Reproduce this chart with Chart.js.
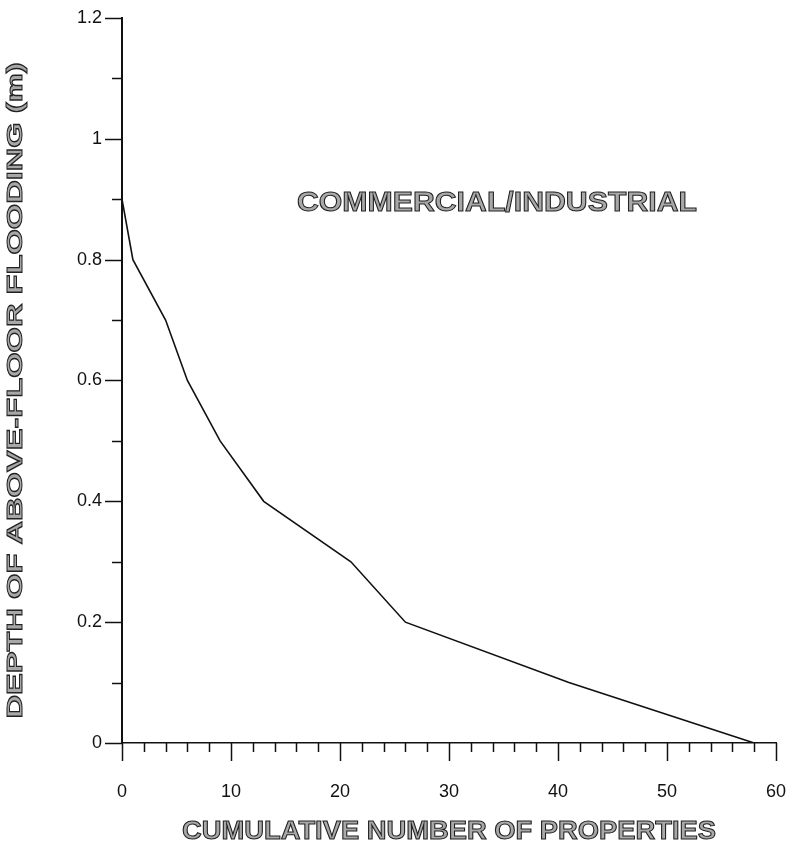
<!DOCTYPE html>
<html>
<head>
<meta charset="utf-8">
<script src="https://cdn.jsdelivr.net/npm/chart.js@4/dist/chart.umd.min.js"></script>
<style>
  html, body { margin: 0; padding: 0; background: #fff; }
  #wrap { width: 791px; height: 848px; }
</style>
</head>
<body>
<div id="wrap"><canvas id="chart"></canvas></div>
<script>
// values
var cumulativeProperties = [0, 1, 4, 6, 9, 13, 21, 26, 41, 58];
var depthMetres = [0.9, 0.8, 0.7, 0.6, 0.5, 0.4, 0.3, 0.2, 0.1, 0];

var xMin = 0, xMax = 60, xMajor = 10, xMinor = 2;
var yMin = 0, yMax = 1.2, yMajor = 0.2, yMinor = 0.1;

var xTitle = 'CUMULATIVE NUMBER OF PROPERTIES';
var yTitle = 'DEPTH OF ABOVE-FLOOR FLOODING (m)';
var panelLabel = 'COMMERCIAL/INDUSTRIAL';

var points = cumulativeProperties.map(function(x, i) {
  return { x: x, y: depthMetres[i] };
});

var fontFamily = "'Liberation Sans', Arial, sans-serif";

// outlined bold text, stretched to a target length (scanned original is wider)
function outlinedText(ctx, text, x, y, size, targetWidth, rotate) {
  ctx.save();
  ctx.font = "bold " + size + "px " + fontFamily;
  ctx.textAlign = 'center';
  ctx.textBaseline = 'middle';
  var w = ctx.measureText(text).width;
  var sx = targetWidth ? targetWidth / w : 1;
  ctx.translate(x, y);
  if (rotate) ctx.rotate(-Math.PI / 2);
  ctx.scale(sx, 1);
  ctx.fillStyle = '#a8a8a8';
  ctx.fillText(text, 0, 0);
  ctx.lineWidth = 1;
  ctx.strokeStyle = '#222';
  ctx.strokeText(text, 0, 0);
  ctx.restore();
}

// major/minor tick marks drawn outside the axes, like the original plot
var tickMarks = {
  id: 'tickMarks',
  afterDraw: function(chart) {
    var ctx = chart.ctx;
    var xs = chart.scales.x, ys = chart.scales.y;
    var area = chart.chartArea;
    ctx.save();
    ctx.strokeStyle = '#111';
    ctx.lineWidth = 1.5;
    ctx.beginPath();
    var n = Math.round((xMax - xMin) / xMinor);
    for (var i = 0; i <= n; i++) {
      var v = xMin + i * xMinor;
      var px = Math.round(xs.getPixelForValue(v)) + 0.5;
      var len = (v % xMajor === 0) ? 18 : 9;
      ctx.moveTo(px, area.bottom);
      ctx.lineTo(px, area.bottom + len);
    }
    var m = Math.round((yMax - yMin) / yMinor);
    for (var j = 0; j <= m; j++) {
      var yv = yMin + j * yMinor;
      var py = Math.round(ys.getPixelForValue(yv)) + 0.5;
      var ylen = (j % 2 === 0) ? 17 : 10;
      ctx.moveTo(area.left - ylen, py);
      ctx.lineTo(area.left, py);
    }
    ctx.stroke();
    ctx.restore();
  }
};

// axis titles and the panel label
var labels = {
  id: 'labels',
  afterDraw: function(chart) {
    var ctx = chart.ctx;
    var area = chart.chartArea;
    var xs = chart.scales.x, ys = chart.scales.y;
    outlinedText(ctx, panelLabel, xs.getPixelForValue(34.4), ys.getPixelForValue(0.893), 28, 400, false);
    outlinedText(ctx, xTitle, (area.left + area.right) / 2, 832, 25, 534, false);
    outlinedText(ctx, yTitle, 16, (area.top + area.bottom) / 2 + 10, 22, 656, true);
  }
};

var ctx = document.getElementById('chart');
var chart = new Chart(ctx, {
  type: 'line',
  data: {
    datasets: [{
      label: 'Commercial/Industrial',
      data: points,
      borderColor: '#111',
      borderWidth: 1.6,
      pointRadius: 0,
      fill: false,
      tension: 0
    }]
  },
  plugins: [tickMarks, labels],
  options: {
    responsive: true,
    maintainAspectRatio: false,
    animation: false,
    layout: {
      padding: { top: 18, right: 15, bottom: 0, left: 0 }
    },
    plugins: {
      legend: { display: false },
      tooltip: { enabled: false }
    },
    scales: {
      x: {
        type: 'linear',
        min: xMin,
        max: xMax,
        grid: { display: false, drawTicks: false },
        border: { display: true, color: '#111', width: 1.5 },
        ticks: {
          stepSize: xMajor,
          padding: 38,
          color: '#111',
          font: { family: fontFamily, size: 18 }
        },
        afterFit: function(scale) {
          scale.height = 105;
          scale.paddingLeft = 0;
          scale.paddingRight = 0;
        }
      },
      y: {
        type: 'linear',
        min: yMin,
        max: yMax,
        grid: { display: false, drawTicks: false },
        border: { display: true, color: '#111', width: 2 },
        ticks: {
          stepSize: yMajor,
          padding: 20,
          color: '#111',
          font: { family: fontFamily, size: 18 },
          callback: function(v) { return Math.round(v * 10) / 10; }
        },
        afterFit: function(scale) {
          scale.width = 122;
          scale.paddingTop = 0;
          scale.paddingBottom = 0;
        }
      }
    }
  }
});
</script>
</body>
</html>
